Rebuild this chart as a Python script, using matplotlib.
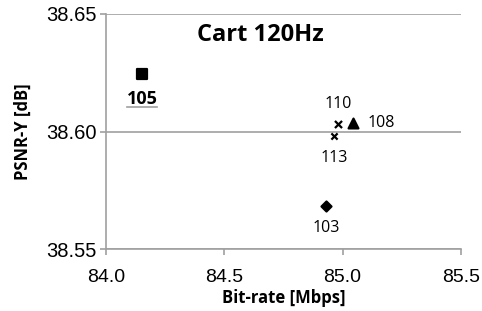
import matplotlib.pyplot as plt

# data
labels = ["105", "110", "108", "113", "103"]
bitrate = [84.153, 84.98, 85.046, 84.965, 84.93]
psnr = [38.6243, 38.6033, 38.6035, 38.5981, 38.5684]
markers = ["s", "x", "^", "x", "D"]
xticks = [84.0, 84.5, 85.0, 85.5]
yticks = [38.55, 38.60, 38.65]

fig = plt.figure(figsize=(4.82, 3.11), dpi=100)
ax = fig.add_axes([0.22, 0.199, 0.736, 0.756])

sizes = [45, 26, 50, 20, 26]
for x, y, m, s in zip(bitrate, psnr, markers, sizes):
    ax.scatter(x, y, marker=m, s=s, color="black", linewidths=1.6, zorder=3)

lab_font = "Open Sans"
# label offsets in points
offsets = {"105": (0, -18), "110": (0, 14), "108": (20, 0), "113": (0, -16), "103": (0, -16)}
for lab, x, y in zip(labels, bitrate, psnr):
    dx, dy = offsets[lab]
    bold = lab == "105"
    ax.annotate(lab, (x, y), xytext=(dx, dy), textcoords="offset points",
                ha="center", va="center", fontsize=13 if bold else 11.5,
                fontweight="bold" if bold else "normal", family=lab_font)
ax.plot([84.087, 84.217], [38.6104, 38.6104], color="#a0a0a0", lw=1.2)

ax.set_xlim(84.0, 85.5)
ax.set_ylim(38.55, 38.65)
ax.set_xticks(xticks)
ax.set_xticklabels([f"{v:.1f}" for v in xticks], family="Liberation Sans", fontsize=14)
ax.set_yticks(yticks)
ax.set_yticklabels([f"{v:.2f}" for v in yticks], family="Liberation Sans", fontsize=14.5)
ax.tick_params(axis="both", direction="out", length=4, color="#a0a0a0", width=1.2)
ax.tick_params(axis="x", pad=10)
ax.tick_params(axis="y", pad=3)

ax.grid(axis="y", color="#a0a0a0", lw=1.2)
ax.set_axisbelow(True)
for side in ["top", "right"]:
    ax.spines[side].set_visible(False)
for side in ["left", "bottom"]:
    ax.spines[side].set_color("#a0a0a0")
    ax.spines[side].set_linewidth(1.2)

ax.set_xlabel("Bit-rate [Mbps]", family=lab_font, fontweight="bold", fontsize=12, va="center")
ax.xaxis.set_label_coords(0.5, -0.21)
ax.set_ylabel("PSNR-Y [dB]", family=lab_font, fontweight="bold", fontsize=12, va="center")
ax.yaxis.set_label_coords(-0.234, 0.5)
ax.text(0.435, 0.91, "Cart 120Hz", transform=ax.transAxes, ha="center", va="center",
        family=lab_font, fontweight="bold", fontsize=17)

plt.savefig("out.png", dpi=100)
